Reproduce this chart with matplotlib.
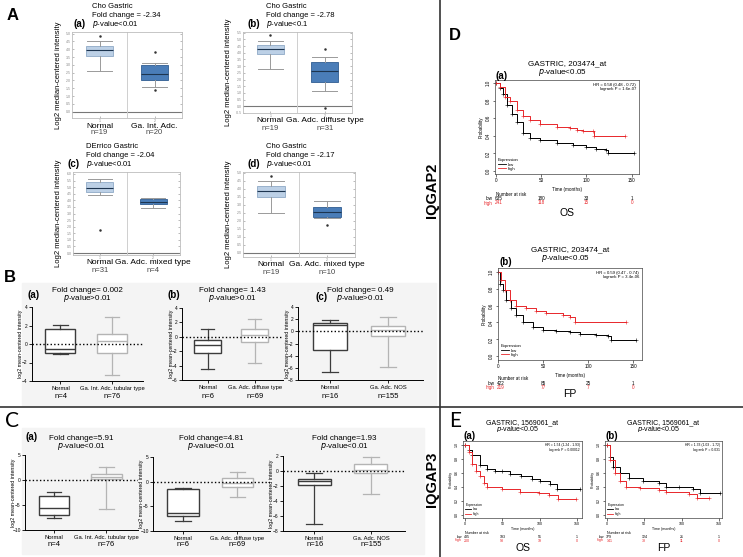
import matplotlib
matplotlib.use('Agg')
import matplotlib.pyplot as plt
from matplotlib.lines import Line2D
from matplotlib.patches import Rectangle

W, H = 743, 557
plt.rcParams['font.family'] = ['Liberation Sans', 'DejaVu Sans']

# ---- A: Oncomine box plots (normal / tumour) ----
a_dataset = ['Cho Gastric', 'Cho Gastric', 'DErrico Gastric', 'Cho Gastric']
a_fold = ['-2.34', '-2.78', '-2.04', '-2.17']
a_pval = ['<0.01', '<0.1', '<0.01', '<0.01']
a_tumor_name = ['Ga. Int. Adc.', 'Ga. Adc. diffuse type', 'Ga. Adc. mixed type', 'Ga. Adc. mixed type']
a_n_normal = [19, 19, 31, 19]
a_n_tumor = [20, 31, 4, 10]
a_normal_med = [3.95, 4.3, 4.95, 3.9]
a_normal_q1 = [3.54, 3.9, 4.6, 3.48]
a_normal_q3 = [4.2, 4.6, 5.4, 4.19]
a_normal_lo = [2.58, 2.8, 4.4, 2.5]
a_normal_hi = [4.54, 4.9, 5.6, 4.48]
a_normal_out = [[4.83], [5.3], [1.75], [4.8]]
a_tumor_med = [2.44, 2.6, 3.9, 2.58]
a_tumor_q1 = [2.02, 1.8, 3.75, 2.25]
a_tumor_q3 = [3.02, 3.3, 4.1, 2.85]
a_tumor_lo = [1.56, 1.15, 3.45, 2.2]
a_tumor_hi = [3.13, 3.65, 4.2, 3.25]
a_tumor_out = [[3.81, 1.4], [4.3, -0.1], [], [1.73]]
a_ylim = [(-0.4, 5.1), (-0.5, 5.55), (-0.15, 6.15), (-0.25, 5.06)]

# ---- B / C: GraphPad box plots ----
bc_tumor_name = ['Ga. Int. Adc. tubular type', 'Ga. Adc. diffuse type', 'Ga. Adc. NOS']
bc_n_normal = [4, 6, 16]
bc_n_tumor = [76, 69, 155]
b_fold = ['0.002', '1.43', '0.49']
b_normal_med = [-0.5, -1.1, 1.0]
b_normal_q1 = [-1.0, -2.3, -3.1]
b_normal_q3 = [1.6, -0.4, 1.3]
b_normal_lo = [-1.1, -4.5, -6.7]
b_normal_hi = [2.1, 1.1, 1.8]
b_tumor_med = [0.3, 0.3, 0.2]
b_tumor_q1 = [-1.0, -0.7, -0.8]
b_tumor_q3 = [1.1, 1.1, 0.9]
b_tumor_lo = [-3.4, -3.7, -5.9]
b_tumor_hi = [2.9, 2.5, 2.3]
b_ylim = [(-4, 4), (-6, 4), (-8, 4)]

c_fold = ['5.91', '4.81', '1.93']
c_normal_med = [-5.5, -6.3, -1.3]
c_normal_q1 = [-7.0, -7.0, -1.9]
c_normal_q3 = [-3.1, -1.5, -1.0]
c_normal_lo = [-7.5, -7.9, -7.1]
c_normal_hi = [-2.3, -1.3, -0.3]
c_tumor_med = [0.7, -0.2, 0.2]
c_tumor_q1 = [0.2, -1.1, -0.3]
c_tumor_q3 = [1.2, 0.8, 0.9]
c_tumor_lo = [-5.7, -3.2, -3.0]
c_tumor_hi = [2.7, 1.9, 1.9]
c_ylim = [(-10, 5), (-10, 5), (-8, 2)]
c_step = [5, 5, 2]

# ---- D / E: Kaplan-Meier curves (time in months, survival probability) ----
da_low_t = [0, 4.4, 8, 11.8, 17.3, 22.9, 30, 37.6, 48.7, 67, 85.5, 100, 111, 122, 124, 152.6]
da_low_s = [1.0, 0.94, 0.88, 0.75, 0.65, 0.56, 0.43, 0.38, 0.35, 0.32, 0.30, 0.27, 0.25, 0.24, 0.20, 0.20]
da_high_t = [0, 4.4, 10, 15.5, 22.9, 30, 37.6, 48.7, 67, 82, 89, 96.5, 107.6, 108.7, 143]
da_high_s = [1.0, 0.95, 0.84, 0.79, 0.69, 0.62, 0.58, 0.53, 0.50, 0.49, 0.47, 0.46, 0.46, 0.40, 0.40]
db_low_t = [0, 2.6, 5.6, 9.3, 14.8, 20.4, 27.8, 38.9, 50, 64.8, 79.6, 90.7, 109, 122, 126, 153.7]
db_low_s = [1.0, 0.86, 0.78, 0.66, 0.57, 0.49, 0.41, 0.35, 0.31, 0.30, 0.29, 0.26, 0.25, 0.24, 0.19, 0.19]
db_high_t = [0, 3.7, 7.4, 13, 20.4, 31.5, 42.6, 53.7, 72, 79.6, 85, 142.6]
db_high_s = [1.0, 0.90, 0.78, 0.66, 0.60, 0.57, 0.53, 0.51, 0.49, 0.46, 0.41, 0.41]
ea_low_t = [0, 5, 10, 20, 30, 40, 50, 60, 74.5, 90, 100, 114, 123, 154]
ea_low_s = [1.0, 0.93, 0.85, 0.71, 0.66, 0.63, 0.62, 0.58, 0.55, 0.51, 0.49, 0.44, 0.37, 0.37]
ea_high_t = [0, 5, 10, 15, 20, 25, 29, 50, 74, 99, 113, 124, 149]
ea_high_s = [1.0, 0.9, 0.72, 0.63, 0.55, 0.45, 0.40, 0.37, 0.33, 0.31, 0.28, 0.22, 0.22]
eb_low_t = [0, 3.8, 8.3, 17, 30, 48, 70, 79, 97, 115, 124, 151]
eb_low_s = [1.0, 0.83, 0.69, 0.60, 0.52, 0.49, 0.46, 0.40, 0.40, 0.37, 0.31, 0.31]
eb_high_t = [0, 3.8, 10.5, 17, 26, 44, 70, 79, 110, 121, 137]
eb_high_s = [1.0, 0.79, 0.60, 0.48, 0.40, 0.38, 0.36, 0.32, 0.30, 0.24, 0.24]

km_titles = ['GASTRIC, 203474_at', 'GASTRIC, 203474_at', 'GASTRIC, 1569061_at', 'GASTRIC, 1569061_at']
km_hr = ['HR = 0.58 (0.48 - 0.72)\nlogrank P = 1.6e-07', 'HR = 0.59 (0.47 - 0.74)\nlogrank P = 3.4e-06',
         'HR = 1.54 (1.24 - 1.93)\nlogrank P = 0.00012', 'HR = 1.33 (1.03 - 1.72)\nlogrank P = 0.031']
km_risk_low = [[635, 180, 33, 1], [422, 85, 25, 1], [435, 193, 51, 1], [379, 124, 21, 1]]
km_risk_high = [[241, 118, 15, 0], [219, 77, 7, 0], [200, 93, 19, 0], [141, 38, 11, 0]]
km_endpoint = ['OS', 'FP', 'OS', 'FP']

fig = plt.figure(figsize=(W / 100, H / 100), dpi=100)


def px_axes(x0, y0, x1, y1):
    return fig.add_axes([x0 / W, 1 - y1 / H, (x1 - x0) / W, (y1 - y0) / H])


def txt(x, y, s, **kw):
    kw.setdefault('va', 'center')
    return fig.text(x / W, 1 - y / H, s, **kw)


# panel dividers and light backgrounds
fig.add_artist(Rectangle((22 / W, 1 - 405 / H), 414 / W, 122 / H, transform=fig.transFigure,
                         color='#f4f4f4', zorder=-5))
fig.add_artist(Rectangle((22 / W, 1 - 554 / H), 402 / W, 126 / H, transform=fig.transFigure,
                         color='#f4f4f4', zorder=-5))
fig.add_artist(Line2D([440 / W, 440 / W], [0, 1], color='#333333', lw=1.2))
fig.add_artist(Line2D([0, 1], [1 - 407 / H, 1 - 407 / H], color='#333333', lw=1.2))

# ---------------- A ----------------
txt(13, 16, 'A', fontsize=12, fontweight='bold', ha='center')
a_frames = [(72, 32, 182, 118), (243, 32, 352, 113), (73, 172, 180, 255), (243, 172, 355, 257)]
a_tags = ['(a)', '(b)', '(c)', '(d)']
a_tag_pos = [(73, 24), (247, 24), (67, 164), (247, 164)]
for i, (x0, y0, x1, y1) in enumerate(a_frames):
    ax = px_axes(x0, y0, x1, y1)
    stats = [dict(med=a_normal_med[i], q1=a_normal_q1[i], q3=a_normal_q3[i],
                  whislo=a_normal_lo[i], whishi=a_normal_hi[i], fliers=a_normal_out[i]),
             dict(med=a_tumor_med[i], q1=a_tumor_q1[i], q3=a_tumor_q3[i],
                  whislo=a_tumor_lo[i], whishi=a_tumor_hi[i], fliers=a_tumor_out[i])]
    bp = ax.bxp(stats, positions=[1, 2], widths=0.5, capwidths=0.45, patch_artist=True,
                medianprops=dict(color='#1d3550', lw=0.8),
                whiskerprops=dict(color='#9a9a9a', lw=0.7), capprops=dict(color='#9a9a9a', lw=0.7),
                flierprops=dict(marker='.', ms=1.6, mfc='#333', mec='#333'))
    bp['boxes'][0].set(facecolor='#bcd0e6', edgecolor='#8fa9c6', lw=0.6)
    bp['boxes'][1].set(facecolor='#4a7db8', edgecolor='#2f5d92', lw=0.6)
    ax.axhline(0, color='#777', lw=0.8, zorder=0)
    ax.axvline(1.5, color='#cfcfcf', lw=0.7, zorder=0)
    ax.set_xlim(0.5, 2.5)
    ax.set_ylim(*a_ylim[i])
    lo, hi = a_ylim[i]
    ticks = [v / 2 for v in range(int(lo * 2) - 1, int(hi * 2) + 2) if lo <= v / 2 <= hi]
    ax.set_yticks(ticks)
    ax.set_yticklabels(['%.1f' % t for t in ticks])
    ax.set_xticks([1, 2])
    ax.set_xticklabels(['1', '2'])
    ax.tick_params(labelsize=2.5, length=1.5, width=0.4, direction='in', pad=1,
                   right=True, colors='#888')
    for s in ax.spines.values():
        s.set_color('#bdbdbd')
        s.set_linewidth(0.6)
    tx, ty = a_tag_pos[i]
    txt(tx, ty, a_tags[i], fontsize=7, fontweight='bold')
    txt(tx + 19, ty - 17, a_dataset[i], fontsize=5.5)
    txt(tx + 19, ty - 8.5, 'Fold change = ' + a_fold[i], fontsize=5.5)
    txt(tx + 19, ty, '$p$-value' + a_pval[i], fontsize=5.5)
    txt(x0 - 14, (y0 + y1) / 2, 'Log2 median-centered intensity', fontsize=5.5,
        rotation=90, ha='center')
    xn = x0 + (x1 - x0) * 0.25
    xt = x0 + (x1 - x0) * 0.75
    txt(xn, y1 + 8, 'Normal', fontsize=6, ha='center')
    txt(xn, y1 + 15, 'n=%d' % a_n_normal[i], fontsize=5.5, ha='center', color='#444')
    txt(xt, y1 + 8, a_tumor_name[i], fontsize=6, ha='center')
    txt(xt, y1 + 15, 'n=%d' % a_n_tumor[i], fontsize=5.5, ha='center', color='#444')


# ---------------- B and C ----------------
def gp_panel(frame, normal, tumor, ylim, step, i):
    x0, y0, x1, y1 = frame
    ax = px_axes(x0, y0, x1, y1)
    ax.patch.set_alpha(0)
    stats = [dict(med=normal[0], q1=normal[1], q3=normal[2], whislo=normal[3], whishi=normal[4]),
             dict(med=tumor[0], q1=tumor[1], q3=tumor[2], whislo=tumor[3], whishi=tumor[4])]
    bp = ax.bxp(stats, positions=[1, 2], widths=0.58, capwidths=0.28, patch_artist=True,
                showfliers=False)
    for k, col in enumerate(['#3c3c3c', '#b4b4b4']):
        bp['boxes'][k].set(facecolor='white', edgecolor=col, lw=1.0)
        bp['medians'][k].set(color=col, lw=1.0)
        for art in bp['whiskers'][2 * k:2 * k + 2] + bp['caps'][2 * k:2 * k + 2]:
            art.set(color=col, lw=0.9)
    ax.axhline(0, ls=(0, (1, 1.6)), color='black', lw=1.0, zorder=3)
    ax.set_xlim(0.45, 2.6)
    ax.set_ylim(*ylim)
    ax.set_yticks(range(ylim[0], ylim[1] + 1, step))
    ax.set_xticks([1, 2])
    ax.set_xticklabels(['Normal', bc_tumor_name[i]])
    ax.tick_params(axis='y', labelsize=3.5, length=2, width=0.6, pad=1)
    ax.tick_params(axis='x', labelsize=4.2, length=2, width=0.6, pad=1.5)
    for s in ['top', 'right']:
        ax.spines[s].set_visible(False)
    for s in ['left', 'bottom']:
        ax.spines[s].set_linewidth(0.7)
    txt(x0 - 11, (y0 + y1) / 2, 'log2 mean-centered intensity', fontsize=3.8,
        rotation=90, ha='center')
    return ax


txt(10, 277, 'B', fontsize=12, fontweight='bold', ha='center')
b_frames = [(32, 307, 143, 381), (182, 308, 283, 380), (298, 307, 423, 380)]
b_tags = [(28, 295, '(a)'), (167, 295, '(b)'), (315, 297, '(c)')]
for i, fr in enumerate(b_frames):
    ax = gp_panel(fr, [b_normal_med[i], b_normal_q1[i], b_normal_q3[i], b_normal_lo[i], b_normal_hi[i]],
                  [b_tumor_med[i], b_tumor_q1[i], b_tumor_q3[i], b_tumor_lo[i], b_tumor_hi[i]],
                  b_ylim[i], 2, i)
    x0, y0, x1, y1 = fr
    cx = x0 + (x1 - x0) * 0.5
    txt(cx, 290, 'Fold change= ' + b_fold[i], fontsize=5.8, ha='center')
    txt(cx, 298, '$p$-value>0.01', fontsize=5.8, ha='center')
    txt(b_tags[i][0], b_tags[i][1], b_tags[i][2], fontsize=7, fontweight='bold')
    txt(x0 + (x1 - x0) * 0.26, 397, 'n=%d' % bc_n_normal[i], fontsize=5.5, ha='center')
    txt(x0 + (x1 - x0) * 0.72, 397, 'n=%d' % bc_n_tumor[i], fontsize=5.5, ha='center')

txt(12, 421, 'C', fontsize=15, family=['Lato', 'DejaVu Sans'], ha='center')
c_frames = [(25, 455, 138, 530), (153, 457, 270, 531), (283, 456, 405, 531)]
for i, fr in enumerate(c_frames):
    ax = gp_panel(fr, [c_normal_med[i], c_normal_q1[i], c_normal_q3[i], c_normal_lo[i], c_normal_hi[i]],
                  [c_tumor_med[i], c_tumor_q1[i], c_tumor_q3[i], c_tumor_lo[i], c_tumor_hi[i]],
                  c_ylim[i], c_step[i], i)
    x0, y0, x1, y1 = fr
    cx = x0 + (x1 - x0) * 0.5
    txt(cx, 438, 'Fold change=' + c_fold[i], fontsize=5.8, ha='center')
    txt(cx, 446, '$p$-value<0.01', fontsize=5.8, ha='center')
    txt(x0 + (x1 - x0) * 0.26, 544, 'n=%d' % bc_n_normal[i], fontsize=5.5, ha='center')
    txt(x0 + (x1 - x0) * 0.72, 544, 'n=%d' % bc_n_tumor[i], fontsize=5.5, ha='center')
txt(25, 437, '(a)', fontsize=7, fontweight='bold')

# ---------------- D and E (Kaplan-Meier) ----------------
txt(455, 35, 'D', fontsize=12, fontweight='bold', ha='center')
txt(455, 421, 'E', fontsize=15, family=['Lato', 'DejaVu Sans'], ha='center')
txt(432, 190, 'IQGAP2', fontsize=10.5, fontweight='bold', rotation=90, ha='center')
txt(432, 479, 'IQGAP3', fontsize=10.5, fontweight='bold', rotation=90, ha='center')

km_frames = [(495, 80, 639, 174), (498, 268, 642, 360), (463, 441, 582, 518), (605, 441, 722, 518)]
km_xlim = [(-1, 158), (0, 160), (-2.7, 156.6), (-2.7, 154)]
km_ylim = [(-0.034, 1.034), (-0.045, 1.045), (-0.045, 1.055), (-0.045, 1.055)]
km_curves = [(da_low_t, da_low_s, da_high_t, da_high_s), (db_low_t, db_low_s, db_high_t, db_high_s),
             (ea_low_t, ea_low_s, ea_high_t, ea_high_s), (eb_low_t, eb_low_s, eb_high_t, eb_high_s)]
km_tags = ['(a)', '(b)', '(a)', '(b)']
# pixel offsets below the frame: time label, "Number at risk", low row, high row, endpoint
km_off = [(16, 21, 24.5, 29, 39), (15, 19, 23.5, 27.5, 34), (11, 14.5, 18.5, 22.5, 30),
          (11, 14.5, 18.5, 22.5, 30)]
km_fs = [3.3, 3.3, 2.6, 2.6]
km_title_fs = [5.8, 5.8, 5.0, 5.0]
# pixel offsets above the frame: title line, p-value line, panel tag
km_title_off = [(16, 7, 4), (18, 9, 6), (18.5, 11.5, 5), (18.5, 11.5, 5)]
for i, (x0, y0, x1, y1) in enumerate(km_frames):
    ax = px_axes(x0, y0, x1, y1)
    lt, ls, ht, hs = km_curves[i]
    ax.plot(lt, ls, drawstyle='steps-post', color='black', lw=0.7, marker='+', ms=2.2, mew=0.4)
    ax.plot(ht, hs, drawstyle='steps-post', color='#e8262a', lw=0.7, marker='+', ms=2.2, mew=0.4)
    ax.set_xlim(*km_xlim[i])
    ax.set_ylim(*km_ylim[i])
    fs = km_fs[i]
    ax.set_xticks([0, 50, 100, 150])
    ax.set_yticks([0, 0.2, 0.4, 0.6, 0.8, 1.0])
    ax.set_yticklabels(['0.0', '0.2', '0.4', '0.6', '0.8', '1.0'], rotation=90, va='center')
    ax.tick_params(labelsize=fs, length=1.8, width=0.4, pad=1)
    for s in ax.spines.values():
        s.set_linewidth(0.5)
        s.set_color('#444')
    ax.text(0.98, 0.97, km_hr[i], transform=ax.transAxes, ha='right', va='top',
            fontsize=fs - 0.2, linespacing=1.1)
    leg = ax.legend([Line2D([], [], color='black', lw=0.6), Line2D([], [], color='#e8262a', lw=0.6)],
                    ['low', 'high'], title='Expression', loc='lower left', fontsize=fs - 0.2,
                    title_fontsize=fs - 0.2, frameon=False, handlelength=1.8, borderaxespad=0.3,
                    labelspacing=0.1, handletextpad=0.5)
    leg._legend_box.align = 'left'
    h = y1 - y0
    o_time, o_num, o_low, o_high, o_end = km_off[i]
    ax.set_ylabel('Probability', fontsize=fs, labelpad=1.5)
    ax.text(0.5, -o_time / h, 'Time (months)', transform=ax.transAxes, ha='center',
            va='center', fontsize=fs)
    tr = ax.get_xaxis_transform()
    ax.text(0, -o_num / h, 'Number at risk', transform=tr, ha='left', va='center', fontsize=fs)
    for k, t in enumerate([0, 50, 100, 150]):
        ha = 'left' if k == 0 else 'center'
        xx = t - 1 if k == 0 else t
        ax.text(xx, -o_low / h, str(km_risk_low[i][k]), transform=tr, ha=ha, va='center',
                fontsize=fs)
        ax.text(xx, -o_high / h, str(km_risk_high[i][k]), transform=tr, ha=ha, va='center',
                fontsize=fs, color='#e8262a')
    ax.text(-4, -o_low / h, 'low', transform=tr, ha='right', va='center', fontsize=fs)
    ax.text(-4, -o_high / h, 'high', transform=tr, ha='right', va='center', fontsize=fs,
            color='#e8262a')
    ax.text(0.5, -o_end / h, km_endpoint[i], transform=ax.transAxes, ha='center', va='center',
            fontsize=7.5)
    cx = (x0 + x1) / 2
    t1, t2, t3 = km_title_off[i]
    txt(cx, y0 - t1, km_titles[i], fontsize=km_title_fs[i], ha='center')
    txt(cx - 5, y0 - t2, '$p$-value<0.05', fontsize=km_title_fs[i], ha='center')
    txt(x0 + 1, y0 - t3, km_tags[i], fontsize=7, fontweight='bold')

fig.savefig('out.png', dpi=100)
